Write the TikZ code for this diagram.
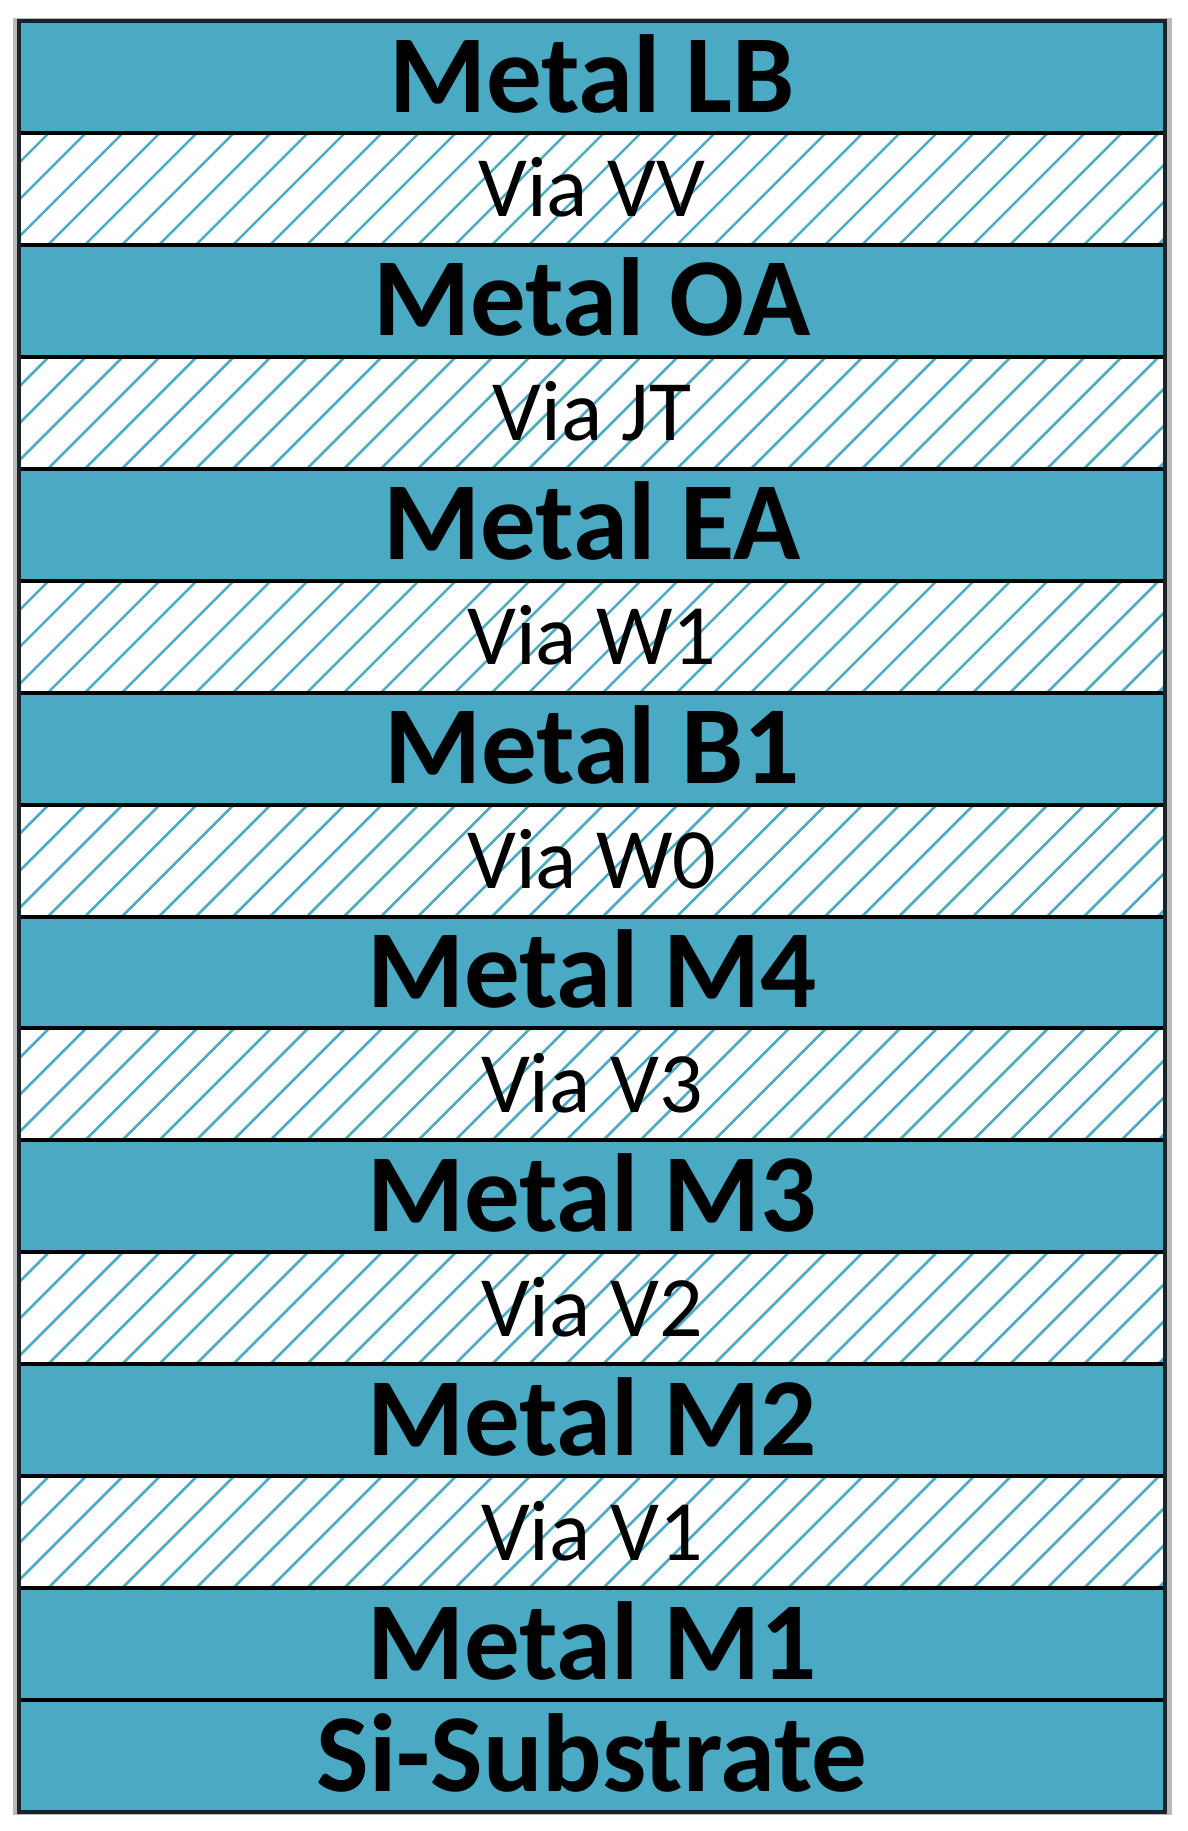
\documentclass[tikz,border=0pt]{standalone}
\usepackage{fontspec}
\setmainfont{Carlito}
\definecolor{metal}{RGB}{74,170,196}
\definecolor{hatchc}{RGB}{76,172,198}
\definecolor{edge}{RGB}{25,35,40}
\tikzset{
  metalfill/.style={fill=metal},
  hatchline/.style={draw=hatchc, line width=2.6pt},
  sepline/.style={draw=black, line width=4pt},
  outerline/.style={draw=edge, line width=4.5pt},
  metaltext/.style={anchor=base, inner sep=0pt, font=\bfseries\fontsize{111}{111}\selectfont},
  viatext/.style={anchor=base, inner sep=0pt, font=\fontsize{86}{86}\selectfont}
}
\begin{document}
\begin{tikzpicture}[x=1pt,y=-1pt]
\useasboundingbox (0,0) rectangle (1187,1831);
\fill[gray!55] (13,18) rectangle (1172,1815);
% metal layers
\foreach \i/\lab in {0/Metal LB,2/Metal OA,4/Metal EA,6/Metal B1,8/Metal M4,10/Metal M3,12/Metal M2,14/Metal M1,15/Si-Substrate} {
  \pgfmathsetmacro\t{21+\i*111.94}
  \fill[metalfill] (19,\t) rectangle (1165,\t+111.94);
  \node[metaltext] (m\i) at (592,\t+56+35) {\lab};
}
% via layers
\foreach \i/\lab in {1/Via VV,3/Via JT,5/Via W1,7/Via W0,9/Via V3,11/Via V2,13/Via V1} {
  \pgfmathsetmacro\t{21+\i*111.94}
  \pgfmathsetmacro\b{\t+111.94}
  \begin{scope}
    \clip (19,\t) rectangle (1165,\b);
    \fill[white] (19,\t) rectangle (1165,\b);
    \foreach \k in {-5,...,33} {
      \draw[hatchline] (6+\k*37,\b+5) -- ++(130,-130);
    }
  \end{scope}
  \node[viatext] (v\i) at (592,\t+56+28) {\lab};
}
% separators
\foreach \i in {1,...,15} {
  \pgfmathsetmacro\t{21+\i*111.94}
  \draw[sepline] (19,\t) -- (1165,\t);
}
\draw[outerline] (19,21) rectangle (1165,1812);
\end{tikzpicture}
\end{document}
